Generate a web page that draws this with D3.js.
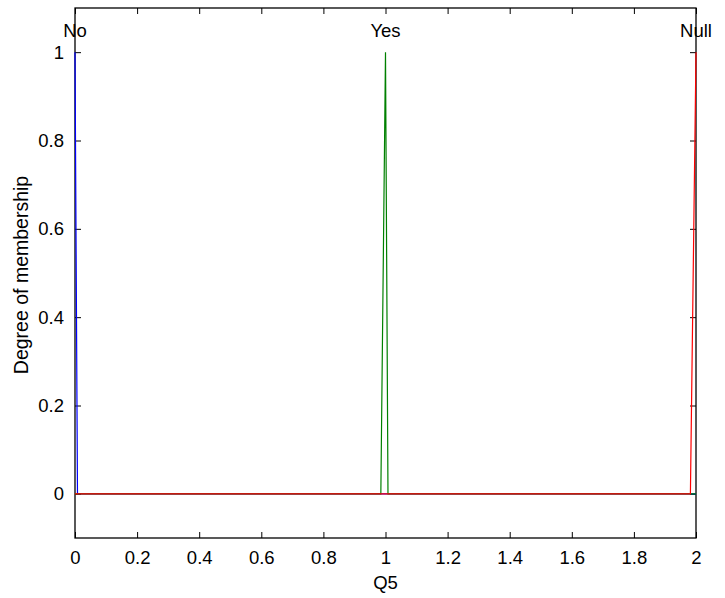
<!DOCTYPE html>
<html>
<head>
<meta charset="utf-8">
<script src="https://cdn.jsdelivr.net/npm/d3@7"></script>
<style>
  html, body { margin: 0; padding: 0; background: #fff; }
  text { font-family: "Liberation Sans", Arial, Helvetica, sans-serif; fill: #000; }
</style>
</head>
<body>
<svg id="chart" width="725" height="598"></svg>
<script>
// ---- data ----
const xTicks = [0, 0.2, 0.4, 0.6, 0.8, 1, 1.2, 1.4, 1.6, 1.8, 2];
const yTicks = [0, 0.2, 0.4, 0.6, 0.8, 1];
const mfNames = ["No", "Yes", "Null"];
const mfPeaks = [0, 1, 2];
const noX = [0, 0.008, 2];
const noY = [1, 0, 0];
const yesX = [0, 0.985, 1, 1.008, 2];
const yesY = [0, 0, 1, 0, 0];
const nullX = [0, 1.982, 2];
const nullY = [0, 0, 1];
const xLabel = "Q5";
const yLabel = "Degree of membership";

(function () {
// ---- layout ----
const svg = d3.select("#chart");
const pL = 75, pR = 696, pT = 8, pB = 538;
const x = d3.scaleLinear().domain([0, 2]).range([pL, pR]);
const y = d3.scaleLinear().domain([-0.1, 1.1]).range([pB, pT]);
const fs = 18.5;
const tickLen = 6;

// axes with inward ticks
const g = svg.append("g");
const axB = d3.axisBottom(x).tickValues(xTicks).tickSizeInner(-tickLen).tickSizeOuter(0).tickPadding(13)
  .tickFormat(d3.format("~g"));
const axT = d3.axisTop(x).tickValues(xTicks).tickSizeInner(-tickLen).tickSizeOuter(0).tickFormat("");
const axL = d3.axisLeft(y).tickValues(yTicks).tickSizeInner(-tickLen).tickSizeOuter(0).tickPadding(11)
  .tickFormat(d3.format("~g"));
const axR = d3.axisRight(y).tickValues(yTicks).tickSizeInner(-tickLen).tickSizeOuter(0).tickFormat("");

function style(sel) {
  sel.select(".domain").remove();
  sel.selectAll(".tick line").attr("stroke", "#000").attr("stroke-width", 1);
  sel.selectAll(".tick text").attr("font-size", fs).attr("font-family", "Liberation Sans, Arial, sans-serif").attr("fill", "#000");
}
g.append("g").attr("transform", `translate(0,${pB})`).call(axB).call(style);
g.append("g").attr("transform", `translate(0,${pT})`).call(axT).call(style);
g.append("g").attr("transform", `translate(${pL},0)`).call(axL).call(style);
g.append("g").attr("transform", `translate(${pR},0)`).call(axR).call(style);

// box
svg.append("rect")
  .attr("x", pL).attr("y", pT)
  .attr("width", pR - pL).attr("height", pB - pT)
  .attr("fill", "none").attr("stroke", "#000").attr("stroke-width", 1.3);

// membership lines
const line = d3.line().x(d => x(d[0])).y(d => y(d[1]));
const series = [
  { xs: noX, ys: noY, color: "#0000ff" },
  { xs: yesX, ys: yesY, color: "#008000" },
  { xs: nullX, ys: nullY, color: "#ff0000" }
];
series.forEach(s => {
  svg.append("path")
    .datum(s.xs.map((v, i) => [v, s.ys[i]]))
    .attr("d", line)
    .attr("fill", "none")
    .attr("stroke", s.color)
    .attr("stroke-width", 1.2);
});

// mf names
svg.selectAll(".mfname").data(mfNames).enter().append("text")
  .attr("class", "mfname")
  .attr("x", (d, i) => x(mfPeaks[i]))
  .attr("y", 37)
  .attr("text-anchor", "middle")
  .attr("font-size", fs)
  .text(d => d);

// axis labels
svg.append("text")
  .attr("x", x(1)).attr("y", 589)
  .attr("text-anchor", "middle")
  .attr("font-size", fs)
  .text(xLabel);

svg.append("text")
  .attr("transform", `translate(28,${(pT + pB) / 2 + 2}) rotate(-90)`)
  .attr("text-anchor", "middle")
  .attr("font-size", 19.5)
  .text(yLabel);
})();
</script>
</body>
</html>
